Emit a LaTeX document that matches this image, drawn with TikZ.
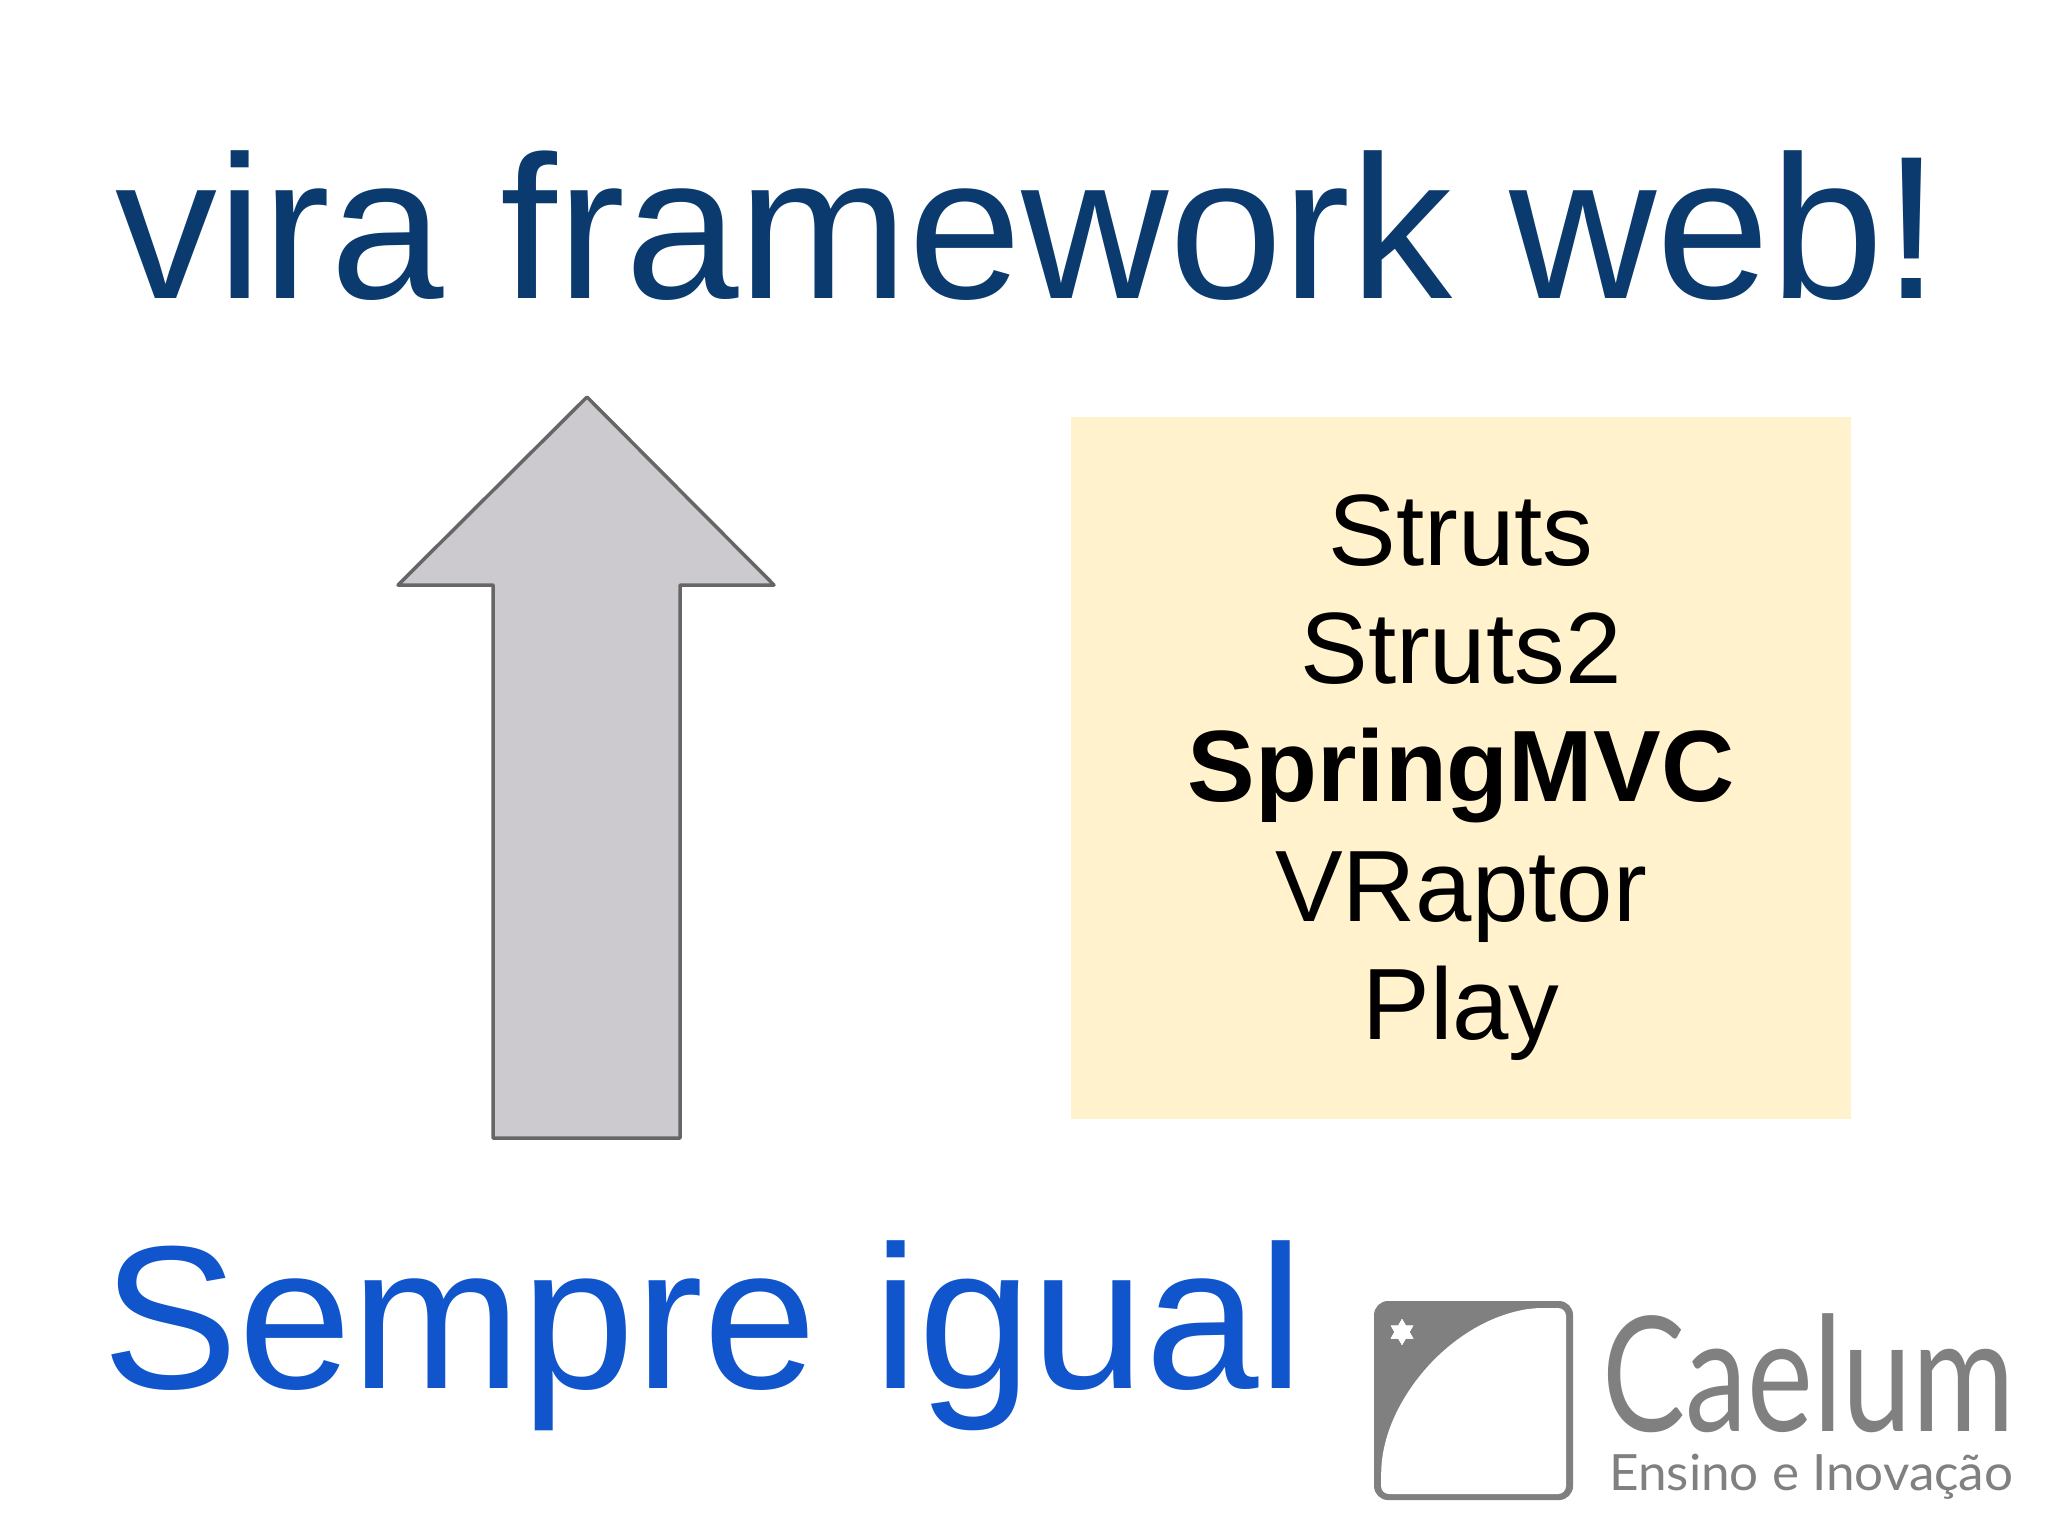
\documentclass[tikz,border=0pt]{standalone}
\usepackage{fontspec}
\usepackage{graphicx}
\setmainfont{Liberation Sans}
\newfontfamily\logofont{Lato}
\definecolor{titleblue}{HTML}{0B3B6E}
\definecolor{subblue}{HTML}{1155CC}
\definecolor{boxcream}{HTML}{FFF2CC}
\definecolor{arrowfill}{HTML}{CCCACE}
\definecolor{arrowline}{HTML}{666666}
\definecolor{logogray}{HTML}{808080}
\tikzset{
  headline/.style={anchor=base west,inner sep=0pt,font=\fontsize{102}{110}\selectfont},
  listline/.style={anchor=base,inner sep=0pt,font=\fontsize{50.7}{56}\selectfont,text=black},
  logotext/.style={anchor=base west,inner sep=0pt,text=logogray},
}
\begin{document}
\begin{tikzpicture}[x=0.5pt,y=-0.5pt]
\useasboundingbox[fill=white] (0,0) rectangle (2048,1536);
\node[headline,text=titleblue] (title) at (115,298) {vira framework web!};
\draw[arrowline,fill=arrowfill,line width=1.75pt,line join=round]
  (587,397) -- (774,585) -- (680,585) -- (680,1138) -- (493,1138) -- (493,585) -- (398,585) -- cycle;
\fill[boxcream] (1071,417) rectangle (1851,1119);
\node[listline] (l1) at (1461,565) {Struts};
\node[listline] (l2) at (1461,683) {Struts2};
\node[listline,font=\fontsize{50.7}{56}\selectfont\bfseries] (l3) at (1461,801) {SpringMVC};
\node[listline] (l4) at (1461,921) {VRaptor};
\node[listline] (l5) at (1461,1039) {Play};
\node[headline,text=subblue] (sub) at (102,1388) {Sempre igual};
% logo mark
\fill[logogray,rounded corners=7pt] (1374,1301) rectangle (1573,1500);
\fill[white,rounded corners=4pt]
  (1381,1494) -- (1381,1475) .. controls (1385,1400) and (1450,1322) .. (1534,1308)
  -- (1566,1308) -- (1566,1494) -- cycle;
\foreach \a in {30,150,270}{\fill[white] (1402,1332) ++(\a:13) -- ++(\a+150:22.5) -- ++(\a+270:22.5) -- cycle;}
\foreach \a in {90,210,330}{\fill[white] (1402,1332) ++(\a:13) -- ++(\a+150:22.5) -- ++(\a+270:22.5) -- cycle;}
\node[logotext,font=\logofont\fontsize{80}{90}\selectfont] (caelum) at (1602,1431) {\resizebox{206pt}{\height}{Caelum}};
\node[logotext,font=\logofont\fontsize{25}{30}\selectfont] (slogan) at (1609,1490) {\resizebox{202pt}{\height}{Ensino e Inovação}};
\end{tikzpicture}
\end{document}
